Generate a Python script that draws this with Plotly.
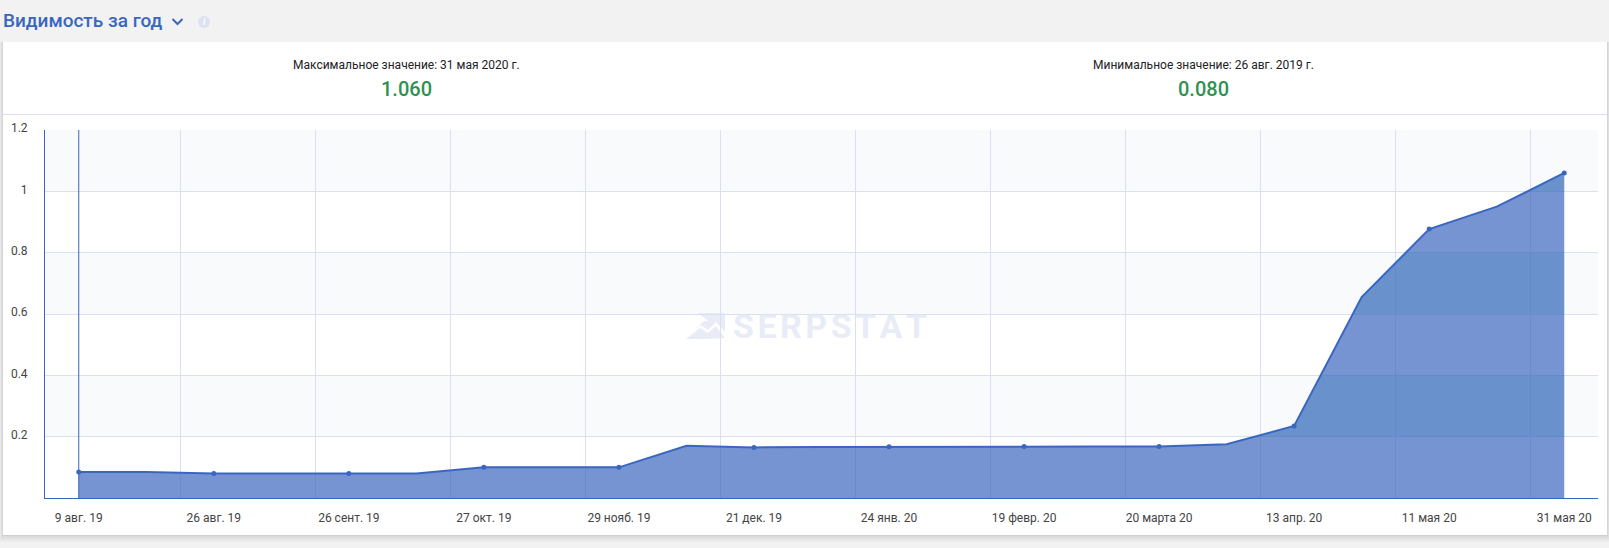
import plotly.graph_objects as go

W, H = 1609, 548
L, R, T, B = 45, 11, 130, 50

values = [0.085, 0.085, 0.08, 0.08, 0.08, 0.08, 0.10, 0.10, 0.10, 0.17, 0.165, 0.166,
          0.167, 0.168, 0.168, 0.168, 0.168, 0.175, 0.235, 0.655, 0.877, 0.95, 1.06]
x_labels = ["9 авг. 19", "26 авг. 19", "26 сент. 19", "27 окт. 19", "29 нояб. 19", "21 дек. 19",
            "24 янв. 20", "19 февр. 20", "20 марта 20", "13 апр. 20", "11 мая 20", "31 мая 20"]
y_ticks = [0.2, 0.4, 0.6, 0.8, 1.0, 1.2]
y_labels = ["0.2", "0.4", "0.6", "0.8", "1", "1.2"]
bands = [(0.2, 0.4), (0.6, 0.8), (1.0, 1.2)]
title = "Видимость за год"
max_caption, max_value = "Максимальное значение: 31 мая 2020 г.", "1.060"
min_caption, min_value = "Минимальное значение: 26 авг. 2019 г.", "0.080"

BLUE = "#3A66C2"
GRID = "#DADFF1"
FONT = "Roboto"
Y_MAX = 1.2

idx = list(range(len(values)))
x_range = [-0.5, len(values) - 0.5]


def px(v):
    return (v - L) / (W - L - R)


def py(v):
    return (H - B - v) / (H - T - B)


def rect(x0, y0, x1, y1, **kw):
    return dict(type="rect", xref="paper", yref="paper", x0=px(x0), x1=px(x1),
                y0=py(y0), y1=py(y1), layer="below", **kw)


def poly(points, color):
    d = "M " + " L ".join(f"{px(a)},{py(b)}" for a, b in points) + " Z"
    return dict(type="path", xref="paper", yref="paper", path=d, fillcolor=color,
                line=dict(width=0), layer="below")


fig = go.Figure()
fig.add_trace(go.Scatter(x=idx, y=values, mode="lines", line=dict(color=BLUE, width=2),
                         fill="tozeroy", fillcolor="rgba(60,103,190,0.7)", hoverinfo="skip",
                         showlegend=False))
fig.add_trace(go.Scatter(x=idx[::2], y=values[::2], mode="markers",
                         marker=dict(color=BLUE, size=5), hoverinfo="skip", showlegend=False))

layout_axes = {}
for n, (lo, hi) in enumerate(bands, start=2):
    fig.add_trace(go.Scatter(x=idx, y=values, mode="none", fill="tozeroy",
                             fillcolor="rgba(0,140,180,0.09)", xaxis=f"x{n}", yaxis=f"y{n}",
                             hoverinfo="skip", showlegend=False))
    layout_axes[f"yaxis{n}"] = dict(domain=[lo / Y_MAX, hi / Y_MAX], range=[lo, hi], anchor=f"x{n}",
                                    visible=False, fixedrange=True, showgrid=False)
    layout_axes[f"xaxis{n}"] = dict(range=x_range, anchor=f"y{n}", visible=False, fixedrange=True,
                                    showgrid=False)

shapes = []
for s in [(7, 0.025), (5, 0.03), (3, 0.04), (1, 0.05)]:
    shapes.append(rect(3 - s[0] / 2, 42, 1607 + s[0] / 2, 535 + s[0],
                       fillcolor=f"rgba(0,0,0,{s[1]})", line=dict(width=0)))
shapes.append(rect(3, 42, 1607, 535, fillcolor="#FFFFFF", line=dict(width=0)))
shapes.append(dict(type="line", xref="paper", yref="paper", x0=px(3), x1=px(1607),
                   y0=py(114.5), y1=py(114.5), line=dict(color=GRID, width=1), layer="below"))
for lo, hi in bands:
    shapes.append(dict(type="rect", xref="x domain", yref="y", x0=0, x1=1, y0=lo, y1=hi,
                       fillcolor="#F9FAFC", line=dict(width=0), layer="below"))
# crosshair at the first category
shapes.append(dict(type="line", xref="x", yref="y domain", x0=idx[0], x1=idx[0], y0=0, y1=1,
                   line=dict(color=BLUE, width=1), layer="above"))
# chevron beside the title
shapes.append(dict(type="path", xref="paper", yref="paper",
                   path=f"M {px(172.5)},{py(19)} L {px(177.5)},{py(24)} L {px(182.5)},{py(19)}",
                   line=dict(color=BLUE, width=2), layer="above"))
# info icon
shapes.append(dict(type="circle", xref="paper", yref="paper", x0=px(198), x1=px(210),
                   y0=py(16), y1=py(28), fillcolor="#DDE2F3", line=dict(width=0), layer="below"))
# watermark logo
WM = "rgba(222,228,244,0.7)"
shapes.append(poly([(698, 313), (725, 313), (725, 332), (716, 322), (708, 330), (700, 325),
                    (690, 333), (704, 321), (708, 321)], WM))
shapes.append(poly([(686, 339), (700, 328), (708, 333), (716, 326), (725, 338), (708, 339)], WM))

ann = [
    dict(x=1, y=20.5, text=title, xanchor="left", font=dict(size=19, color=BLUE, family=FONT, weight=500)),
    dict(x=204, y=22, text="<b><i>i</i></b>", font=dict(size=9, color="#FFFFFF", family=FONT)),
    dict(x=406.5, y=65, text=max_caption, font=dict(size=12, color="#222222", family=FONT)),
    dict(x=406.5, y=89, text=max_value, font=dict(size=20, color="#2F9150", family=FONT, weight=500)),
    dict(x=1203.5, y=65, text=min_caption, font=dict(size=12, color="#222222", family=FONT)),
    dict(x=1203.5, y=89, text=min_value, font=dict(size=20, color="#2F9150", family=FONT, weight=500)),
    dict(x=830, y=326, text="<b>S E R P S T A T</b>".replace(" ", "\u200a"),
         font=dict(size=34, color=WM, family=FONT)),
]
annotations = []
for a in ann:
    a = dict(a)
    a.update(xref="paper", yref="paper", x=px(a["x"]), y=py(a["y"]), showarrow=False,
             yanchor="middle")
    a.setdefault("xanchor", "center")
    annotations.append(a)

fig.update_layout(
    width=W, height=H, margin=dict(l=L, r=R, t=T, b=B, autoexpand=False),
    paper_bgcolor="#F2F2F2", plot_bgcolor="rgba(0,0,0,0)", showlegend=False,
    font=dict(family=FONT, size=12, color="#444444"),
    shapes=shapes, annotations=annotations,
    xaxis=dict(range=x_range, tickmode="array", tickvals=idx[::2], ticktext=x_labels,
               showgrid=False, zeroline=False, showline=True, linecolor=BLUE, linewidth=1,
               ticks="outside", ticklen=9, tickcolor="rgba(0,0,0,0)", tickangle=0,
               tickfont=dict(size=12, color="#444444", family=FONT), fixedrange=True,
               minor=dict(tickmode="linear", tick0=1.5, dtick=2, showgrid=True, gridcolor=GRID,
                          gridwidth=1, ticks="")),
    yaxis=dict(range=[0, Y_MAX], tickmode="array", tickvals=y_ticks, ticktext=y_labels,
               showgrid=True, gridcolor=GRID, gridwidth=1, zeroline=False, showline=True,
               linecolor=BLUE, linewidth=1, ticks="outside", ticklen=14, ticklabelshift=-2,
               tickcolor="rgba(0,0,0,0)", tickfont=dict(size=12, color="#444444", family=FONT),
               fixedrange=True),
    **layout_axes,
)
fig.write_html("out.html", config=dict(displayModeBar=False),
               post_script="document.body.style.margin='0';document.body.style.overflow='hidden';")
